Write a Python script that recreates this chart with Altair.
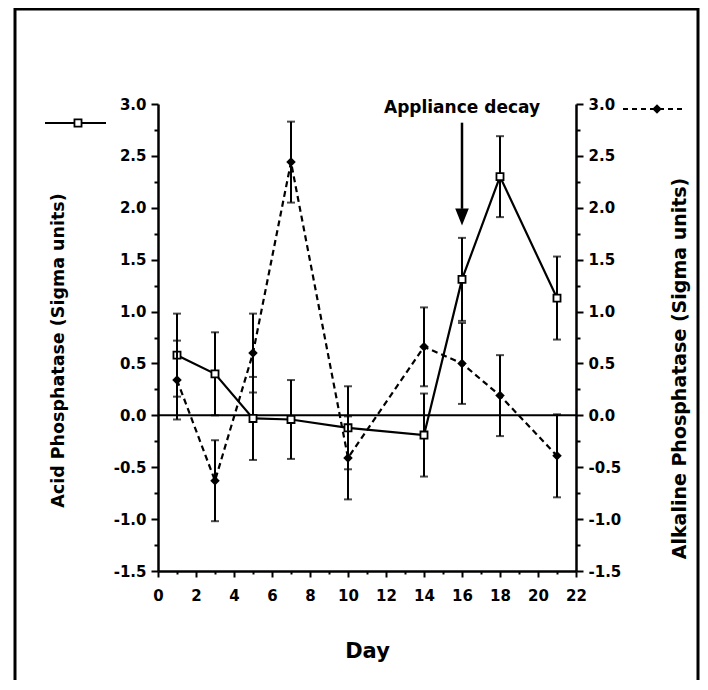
import altair as alt
import pandas as pd

# ---- data ----
days = [1, 3, 5, 7, 10, 14, 16, 18, 21]
acid = [0.58, 0.40, -0.03, -0.04, -0.12, -0.19, 1.31, 2.30, 1.13]
acid_err = [0.40, 0.40, 0.40, 0.38, 0.40, 0.40, 0.40, 0.39, 0.40]
alk = [0.34, -0.63, 0.60, 2.44, -0.41, 0.66, 0.50, 0.19, -0.39]
alk_err = [0.38, 0.39, 0.38, 0.39, 0.40, 0.38, 0.39, 0.39, 0.40]

y_ticks = [-1.5, -1.25, -1.0, -0.75, -0.5, -0.25, 0.0, 0.25, 0.5, 0.75,
           1.0, 1.25, 1.5, 1.75, 2.0, 2.25, 2.5, 2.75, 3.0]
x_ticks = [0, 1, 2, 3, 4, 5, 6, 7, 8, 9, 10, 11, 12, 13, 14, 15, 16, 17, 18,
           19, 20, 21, 22]

note_day = [16]
note_text = ["Appliance decay"]
note_y = [2.96]
arrow_top = [2.82]
arrow_bottom = [1.99]
arrow_head = [1.91]

W, H = 418, 467
FONT = "DejaVu Sans"

acid_df = pd.DataFrame({
    "day": days, "val": acid,
    "lo": [v - e for v, e in zip(acid, acid_err)],
    "hi": [v + e for v, e in zip(acid, acid_err)],
})
alk_df = pd.DataFrame({
    "day": days, "val": alk,
    "lo": [v - e for v, e in zip(alk, alk_err)],
    "hi": [v + e for v, e in zip(alk, alk_err)],
})
acid_caps = pd.DataFrame({"day": days + days,
                          "cap": list(acid_df["lo"]) + list(acid_df["hi"])})
alk_caps = pd.DataFrame({"day": days + days,
                         "cap": list(alk_df["lo"]) + list(alk_df["hi"])})
note_df = pd.DataFrame({"day": note_day, "label": note_text, "y": note_y,
                        "top": arrow_top, "bottom": arrow_bottom,
                        "head": arrow_head})
zero_df = pd.DataFrame({"zero": [0.0]})
one = pd.DataFrame({"a": [0]})

xs = alt.Scale(domain=[0, 22], nice=False, zero=False)
ys = alt.Scale(domain=[-1.5, 3.0], nice=False, zero=False)

major_y = "datum.value % 0.5 === 0"
major_x = "datum.value % 2 === 0"
y_label = f"{major_y} ? replace(format(datum.value, '.1f'), '\u2212', '-') : ''"

x_axis = alt.Axis(
    title="Day", values=x_ticks, format="d",
    labelExpr=f"{major_x} ? datum.label : ''",
    tickSize={"condition": {"test": major_x, "value": 6}, "value": 3},
    labelPadding=11, titlePadding=37, labelFontSize=15, titleFontSize=21,
    labelOverlap=False, labelFlush=False,
)

left_axis = alt.Axis(
    title="Acid Phosphatase (Sigma units)", orient="left", values=y_ticks,
    labelExpr=y_label,
    tickSize={"condition": {"test": major_y, "value": 7}, "value": 4},
    labelPadding=5, titlePadding=46, labelFontSize=15, titleFontSize=17.5,
    labelOverlap=False, labelFlush=False, titleY=246,
)

right_axis = alt.Axis(
    title="Alkaline Phosphatase (Sigma units)", orient="right",
    values=y_ticks, labelExpr=y_label,
    tickSize={"condition": {"test": major_y, "value": 7}, "value": 4},
    labelPadding=5, titlePadding=50, labelFontSize=15, titleFontSize=19,
    labelOverlap=False, labelFlush=False, titleAngle=270,
    titleBaseline="top", titleY=264,
)


def X(field="day"):
    return alt.X(f"{field}:Q", scale=xs, axis=x_axis)


# ---- left (acid) group ----
zero_line = alt.Chart(zero_df).mark_rule(color="black", strokeWidth=2).encode(
    y=alt.Y("zero:Q", scale=ys, axis=left_axis),
    x=alt.value(0), x2=alt.value(W),
)
acid_bars = alt.Chart(acid_df).mark_rule(color="black", strokeWidth=2).encode(
    x=X(), y=alt.Y("lo:Q", scale=ys, axis=left_axis), y2="hi:Q")
acid_capm = alt.Chart(acid_caps).mark_tick(
    color="black", orient="horizontal", size=8, thickness=2).encode(
    x=X(), y=alt.Y("cap:Q", scale=ys, axis=left_axis))
acid_line = alt.Chart(acid_df).mark_line(color="black", strokeWidth=2.2).encode(
    x=X(), y=alt.Y("val:Q", scale=ys, axis=left_axis))
acid_pts = alt.Chart(acid_df).mark_point(
    shape="square", filled=True, fill="white", stroke="black",
    strokeWidth=1.8, size=50, opacity=1).encode(
    x=X(), y=alt.Y("val:Q", scale=ys, axis=left_axis))

note_txt = alt.Chart(note_df).mark_text(
    font=FONT, fontSize=17, fontWeight="bold", color="black",
    baseline="middle", align="center").encode(
    x=X(), y=alt.Y("y:Q", scale=ys, axis=left_axis), text="label:N")
arrow_shaft = alt.Chart(note_df).mark_rule(color="black", strokeWidth=2.5).encode(
    x=X(), y=alt.Y("top:Q", scale=ys, axis=left_axis), y2="bottom:Q")
arrow_tip = alt.Chart(note_df).mark_point(
    shape="M-0.8,-1L0.8,-1L0,1Z", filled=True, color="black", size=289,
    opacity=1).encode(
    x=X(), y=alt.Y("head:Q", scale=ys, axis=left_axis))

frame = alt.Chart(one).mark_rect(
    filled=False, stroke="black", strokeWidth=3).encode(
    x=alt.value(-143), x2=alt.value(540), y=alt.value(-95), y2=alt.value(620))

leg_left_line = alt.Chart(one).mark_rule(color="black", strokeWidth=2).encode(
    x=alt.value(-113), x2=alt.value(-52), y=alt.value(19))
leg_left_pt = alt.Chart(one).mark_point(
    shape="square", filled=True, fill="white", stroke="black",
    strokeWidth=1.8, size=50, opacity=1).encode(
    x=alt.value(-80), y=alt.value(19))
leg_right_line = alt.Chart(one).mark_rule(
    color="black", strokeWidth=2, strokeDash=[5, 4]).encode(
    x=alt.value(465), x2=alt.value(524), y=alt.value(5))
leg_right_pt = alt.Chart(one).mark_point(
    shape="diamond", filled=True, color="black", size=90, opacity=1).encode(
    x=alt.value(499), y=alt.value(5))

left_group = alt.layer(
    frame, zero_line, acid_bars, acid_capm, acid_line, acid_pts,
    note_txt, arrow_shaft, arrow_tip,
    leg_left_line, leg_left_pt, leg_right_line, leg_right_pt,
)

# ---- right (alkaline) group ----
alk_bars = alt.Chart(alk_df).mark_rule(color="black", strokeWidth=2).encode(
    x=X(), y=alt.Y("lo:Q", scale=ys, axis=right_axis), y2="hi:Q")
alk_capm = alt.Chart(alk_caps).mark_tick(
    color="black", orient="horizontal", size=8, thickness=2).encode(
    x=X(), y=alt.Y("cap:Q", scale=ys, axis=right_axis))
alk_line = alt.Chart(alk_df).mark_line(
    color="black", strokeWidth=2.2, strokeDash=[6, 4]).encode(
    x=X(), y=alt.Y("val:Q", scale=ys, axis=right_axis))
alk_pts = alt.Chart(alk_df).mark_point(
    shape="diamond", filled=True, color="black", size=90, opacity=1).encode(
    x=X(), y=alt.Y("val:Q", scale=ys, axis=right_axis))

right_group = alt.layer(alk_bars, alk_capm, alk_line, alk_pts)

chart = alt.layer(left_group, right_group).resolve_scale(
    y="independent"
).properties(
    width=W, height=H,
    autosize=alt.AutoSizeParams(type="none"),
    padding={"left": 150, "top": 96, "right": 124, "bottom": 109},
    background="white",
).configure_view(stroke=None).configure_axis(
    domainColor="black", domainWidth=2.5, tickColor="black", tickWidth=2,
    labelColor="black", titleColor="black", labelFont=FONT, titleFont=FONT,
    labelFontWeight="bold", titleFontWeight="bold", grid=False,
)

chart.save("out.html", embed_options={"renderer": "svg", "actions": False})
